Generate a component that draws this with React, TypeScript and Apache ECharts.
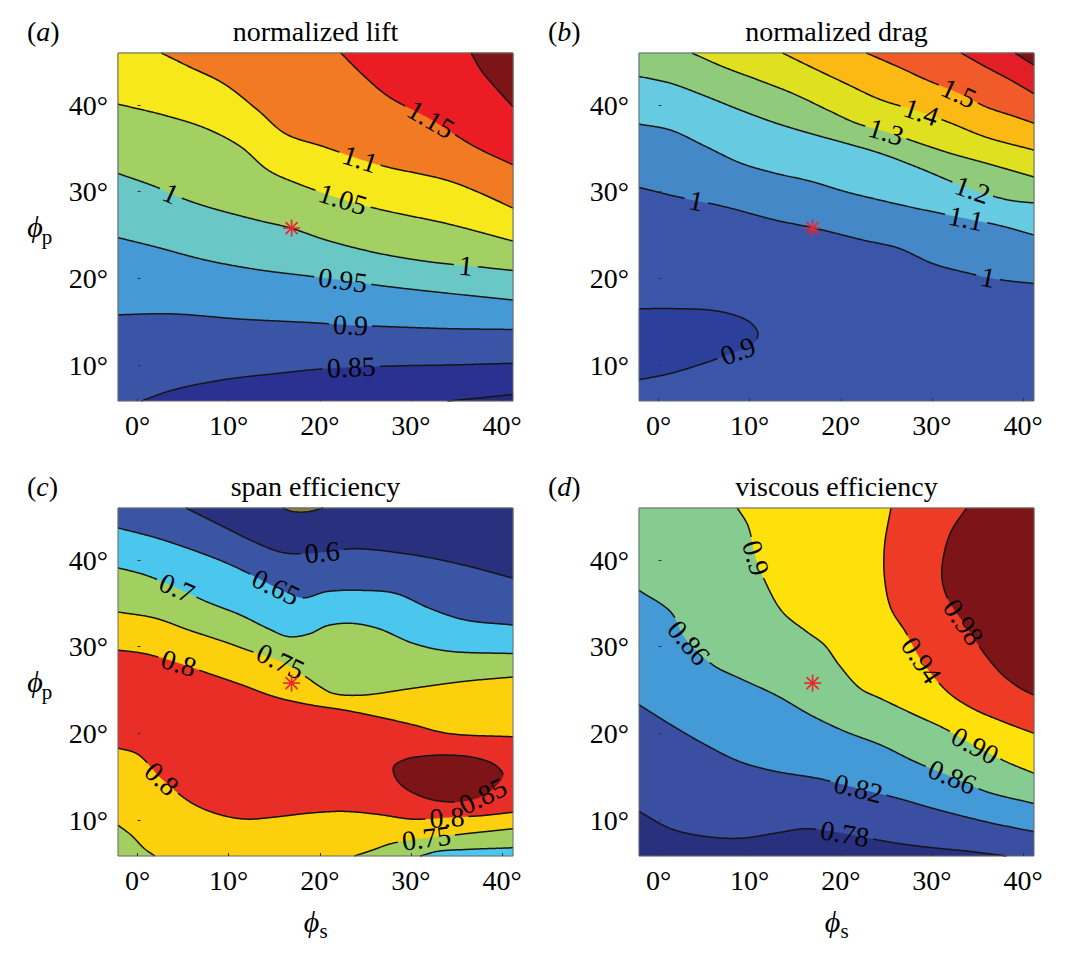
import React, { useEffect, useRef } from "react";
import * as echarts from "echarts";

const FONT = "'Liberation Serif', 'Times New Roman', 'DejaVu Serif', serif";
const XMIN = -2.15;
const XMAX = 41.2;
const YMIN = 5.85;
const YMAX = 46;
const X_TICKS = [0, 10, 20, 30, 40];
const Y_TICKS = [10, 20, 30, 40];
const OPTIMUM = [16.9, 25.8];

// ---------- (a) normalized lift ----------
const LIFT_TITLE = "normalized lift";
const LIFT_080 = [[34.0, 5.85], [37.5, 6.2], [41.2, 6.6]];
const LIFT_085 = [[0.4, 5.85], [3.8, 7.1], [9.4, 8.3], [15.1, 9.0], [20.8, 9.6], [28.3, 9.9], [34.0, 10.0], [41.2, 10.2]];
const LIFT_090 = [[-2.15, 15.8], [3.8, 15.9], [11.3, 15.3], [18.9, 14.9], [23.5, 14.6], [28.3, 14.4], [34.0, 14.2], [41.2, 14.1]];
const LIFT_095 = [[-2.15, 24.7], [1.9, 23.65], [7.5, 22.1], [13.2, 21.0], [17.7, 20.4], [22.5, 19.8], [26.4, 19.2], [32.1, 18.5], [41.2, 17.5]];
const LIFT_100 = [[-2.15, 32.1], [1.9, 30.6], [4.5, 29.4], [7.5, 28.3], [13.2, 26.7], [16.8, 25.8], [20.75, 24.4], [26.4, 22.9], [32.1, 21.9], [37.7, 21.3], [41.2, 20.9]];
const LIFT_105 = [[-2.15, 40.1], [3.0, 38.8], [7.5, 37.3], [11.3, 35.2], [14.3, 32.5], [17.4, 31.0], [22.6, 29.1], [26.8, 27.9], [34.0, 26.3], [41.2, 24.3]];
const LIFT_110 = [[2.6, 46], [5.7, 44.4], [9.4, 42.5], [13.2, 39.4], [16.2, 36.7], [20.4, 35.2], [24.3, 33.8], [27.2, 32.9], [34.0, 31.3], [37.7, 29.8], [41.2, 28.1]];
const LIFT_115 = [[22.3, 46], [24.9, 43.3], [27.5, 41.0], [32.1, 38.4], [37.0, 35.2], [41.2, 33.1]];
const LIFT_120 = [[36.6, 46], [37.7, 44.0], [39.2, 42.1], [41.2, 39.8]];
const LIFT_LINES = [LIFT_080, LIFT_085, LIFT_090, LIFT_095, LIFT_100, LIFT_105, LIFT_110, LIFT_115, LIFT_120];
const LIFT_LABELS: [string, number, number, number][] = [
  ["0.85", 1, 23.4, 9.8],
  ["0.9", 2, 23.3, 14.5],
  ["0.95", 3, 22.5, 19.8],
  ["1", 4, 3.6, 29.6],
  ["1", 4, 36.0, 21.5],
  ["1.05", 5, 22.5, 29.1],
  ["1.1", 6, 24.3, 33.6],
  ["1.15", 7, 32.1, 38.3],
];
const LIFT_COLORS = ["#242a7a", "#2b3191", "#3a55a6", "#4599d5", "#69c8c6", "#a3d063", "#f7e81b", "#f27a22", "#ec1c24", "#7d1518"];
const LIFT_FILLS: [number, (number | string)[]][] = [
  [0, [0, "BR"]],
  [2, [1, "TR", "TL", "BL"]],
  [3, [2, "TR", "TL"]],
  [4, [3, "TR", "TL"]],
  [5, [4, "TR", "TL"]],
  [6, [5, "TR", "TL"]],
  [7, [6, "TR"]],
  [8, [7, "TR"]],
  [9, [8, "TR"]],
];

// ---------- (b) normalized drag ----------
const DRAG_TITLE = "normalized drag";
const DRAG_090 = [[-2.15, 16.5], [2.1, 16.5], [5.95, 16.3], [8.64, 15.65], [10.2, 14.8], [10.9, 13.65], [10.4, 12.5], [7.5, 11.15], [4.4, 10.0], [1.34, 9.04], [-2.15, 8.3]];
const DRAG_100 = [[-2.15, 30.5], [2.1, 29.4], [7.1, 28.3], [12.9, 26.7], [17.1, 25.8], [22.5, 24.4], [26.3, 23.5], [30.1, 21.7], [34.0, 20.6], [37.8, 19.8], [41.2, 19.4]];
const DRAG_110 = [[-2.15, 37.8], [1.34, 37.1], [5.2, 35.2], [9.0, 33.3], [12.9, 32.1], [16.7, 31.2], [20.5, 30.0], [24.4, 29.0], [28.2, 28.1], [33.8, 26.9], [37.8, 26.0], [41.2, 25.0]];
const DRAG_120 = [[-2.15, 43.3], [1.34, 42.5], [5.2, 41.0], [9.0, 39.4], [12.9, 37.9], [16.7, 36.7], [20.5, 35.6], [24.4, 34.4], [28.2, 32.9], [34.5, 30.2], [38.6, 29.0], [41.2, 28.7]];
const DRAG_130 = [[3.65, 46], [7.1, 44.4], [10.9, 42.9], [14.8, 41.3], [18.6, 39.4], [21.7, 37.9], [25.0, 36.9], [28.6, 35.6], [32.1, 34.4], [35.9, 33.3], [41.2, 31.7]];
const DRAG_140 = [[13.6, 46], [16.7, 44.4], [20.5, 42.5], [24.4, 40.6], [28.8, 39.2], [32.1, 37.9], [35.9, 36.3], [41.2, 34.8]];
const DRAG_150 = [[22.8, 46], [26.3, 44.4], [29.4, 42.9], [33.0, 41.35], [35.9, 39.8], [39.0, 38.7], [41.2, 37.9]];
const DRAG_160 = [[33.2, 46], [35.9, 44.4], [38.6, 42.9], [41.2, 41.3]];
const DRAG_170 = [[39.1, 46], [41.2, 44.6]];
const DRAG_LINES = [DRAG_090, DRAG_100, DRAG_110, DRAG_120, DRAG_130, DRAG_140, DRAG_150, DRAG_160, DRAG_170];
const DRAG_LABELS: [string, number, number, number][] = [
  ["0.9", 0, 8.6, 11.9],
  ["1", 1, 4.2, 29.0],
  ["1", 1, 36.1, 20.0],
  ["1.1", 2, 33.8, 26.9],
  ["1.2", 3, 34.5, 30.2],
  ["1.3", 4, 25.0, 36.9],
  ["1.4", 5, 28.8, 39.2],
  ["1.5", 6, 33.0, 41.35],
];
const DRAG_COLORS = ["#2c3f9b", "#3b56a8", "#4488c8", "#66cbe0", "#8fcb7b", "#dfe01f", "#fdb913", "#f15a29", "#e21f26", "#7d1518"];
const DRAG_FILLS: [number, (number | string)[]][] = [
  [0, [0]],
  [2, [1, "TR", "TL"]],
  [3, [2, "TR", "TL"]],
  [4, [3, "TR", "TL"]],
  [5, [4, "TR"]],
  [6, [5, "TR"]],
  [7, [6, "TR"]],
  [8, [7, "TR"]],
  [9, [8, "TR"]],
];

// ---------- (c) span efficiency ----------
const SPAN_TITLE = "span efficiency";
const SPAN_055 = [[15.9, 46], [17.0, 45.6], [18.5, 45.55], [20.4, 46]];
const SPAN_060 = [[5.3, 46], [9.4, 43.85], [13.2, 41.9], [16.2, 40.8], [20.2, 40.9], [23.8, 41.3], [30.2, 40.6], [35.85, 39.4], [41.2, 37.9]];
const SPAN_065 = [[-2.15, 43.7], [1.9, 42.6], [5.66, 41.3], [9.43, 39.8], [12.1, 38.5], [15.1, 36.9], [18.1, 35.65], [20.75, 36.35], [24.5, 36.5], [28.3, 36.15], [32.1, 34.4], [35.85, 33.1], [41.2, 32.5]];
const SPAN_070_UP = [[-2.15, 39.1], [0.75, 38.3], [4.3, 36.8], [7.55, 35.2], [11.3, 33.65], [14.3, 32.1], [16.6, 31.15], [18.9, 31.5], [20.75, 32.4], [23.4, 32.7], [26.4, 32.1], [30.2, 30.4], [34.0, 29.5], [41.2, 29.2]];
const SPAN_075_UP = [[-2.15, 34.0], [1.9, 33.3], [5.66, 31.9], [9.43, 30.6], [12.1, 29.6], [15.7, 28.3], [18.5, 26.5], [20.0, 25.4], [21.5, 24.6], [24.5, 24.4], [30.2, 25.2], [35.85, 26.0], [41.2, 26.5]];
const SPAN_080_UP = [[-2.15, 29.6], [0.75, 29.2], [4.5, 28.1], [7.55, 27.0], [11.3, 25.65], [15.1, 24.2], [18.9, 23.3], [22.6, 22.7], [26.4, 21.9], [30.2, 21.0], [34.0, 20.0], [41.2, 19.6]];
const SPAN_085 = [[28.1, 16.15], [29.4, 17.0], [31.7, 17.4], [34.0, 17.5], [37.0, 17.2], [39.25, 16.35], [40.1, 15.2], [39.25, 13.85], [37.7, 12.7], [35.1, 12.1], [32.1, 12.4], [29.4, 13.65], [28.3, 14.9]];
const SPAN_080_LO = [[-2.15, 18.3], [0, 17.6], [2.6, 14.8], [6.04, 11.9], [9.43, 10.5], [12.1, 10.1], [15.1, 10.35], [18.9, 10.8], [22.6, 11.0], [26.4, 10.65], [30.2, 10.1], [34.0, 10.3], [37.7, 10.5], [41.2, 10.9]];
const SPAN_075_LL = [[-2.15, 9.4], [-0.75, 8.3], [0.75, 6.7], [1.9, 5.85]];
const SPAN_075_LR = [[23.8, 5.85], [25.7, 6.5], [27.9, 7.3], [31.7, 7.9], [35.85, 8.4], [38.5, 8.7], [41.2, 9.0]];
const SPAN_070_LR = [[31.0, 5.85], [33.0, 6.4], [36.0, 6.6], [41.2, 6.8]];
const SPAN_LINES = [SPAN_055, SPAN_060, SPAN_065, SPAN_070_UP, SPAN_075_UP, SPAN_080_UP, SPAN_085, SPAN_080_LO, SPAN_075_LL, SPAN_075_LR, SPAN_070_LR];
const SPAN_CLOSED = [6];
const SPAN_LABELS: [string, number, number, number][] = [
  ["0.6", 1, 20.2, 40.9],
  ["0.65", 2, 15.1, 36.8],
  ["0.7", 3, 4.3, 36.8],
  ["0.75", 4, 15.7, 28.3],
  ["0.8", 5, 4.5, 28.1],
  ["0.8", 7, 2.6, 14.6],
  ["0.85", 6, 37.4, 13.85],
  ["0.8", 7, 34.0, 10.2],
  ["0.75", 9, 31.7, 7.9],
];
const SPAN_COLORS = ["#29307e", "#3b55a5", "#4bc6ec", "#a1d060", "#fdd00e", "#e92d27", "#7d1518", "#8a7b3c"];
const SPAN_FILLS: [number, (number | string)[]][] = [
  [3, [4, "TR", "TL"]],
  [2, [3, "TR", "TL"]],
  [1, [2, "TR", "TL"]],
  [0, [1, "TR"]],
  [7, [0]],
  [5, [5, "r7"]],
  [6, [6]],
  [3, [8, "BL"]],
  [3, [9, "BR"]],
  [2, [10, "BR"]],
];

// ---------- (d) viscous efficiency ----------
const VISC_TITLE = "viscous efficiency";
const VISC_078 = [[-2.15, 11.0], [1.34, 9.0], [5.2, 8.1], [9.0, 7.9], [12.9, 8.5], [16.0, 9.0], [17.8, 8.85], [20.5, 8.4], [26.3, 7.3], [30.1, 6.8], [34.0, 6.4], [38.2, 5.85]];
const VISC_082 = [[-2.15, 23.3], [1.34, 21.0], [5.2, 18.65], [9.0, 16.7], [12.9, 15.6], [17.5, 14.8], [22.1, 13.6], [26.3, 12.5], [30.1, 11.35], [35.9, 9.8], [41.2, 8.65]];
const VISC_086 = [[-2.15, 36.5], [1.34, 34.0], [2.9, 31.0], [5.95, 27.9], [9.0, 26.3], [12.9, 24.4], [16.7, 22.1], [20.5, 20.2], [24.4, 18.65], [28.2, 16.7], [32.4, 14.9], [35.9, 13.3], [41.2, 11.9]];
const VISC_090 = [[8.64, 46], [9.8, 44.0], [10.6, 40.5], [11.7, 37.5], [13.6, 34.0], [16.3, 31.7], [18.2, 30.2], [19.8, 27.9], [22.1, 25.2], [24.4, 24.0], [28.2, 22.1], [31.3, 20.6], [34.7, 18.6], [38.2, 16.7], [41.2, 15.4]];
const VISC_094 = [[25.5, 46], [24.8, 41.7], [24.8, 37.9], [25.5, 34.4], [27.1, 31.7], [28.8, 28.5], [31.7, 24.8], [34.4, 22.9], [37.8, 21.35], [41.2, 20.0]];
const VISC_098 = [[33.8, 46], [32.1, 43.3], [31.3, 40.6], [31.1, 37.9], [31.7, 35.6], [33.6, 32.6], [35.9, 29.0], [37.8, 26.7], [39.7, 25.2], [41.2, 24.4]];
const VISC_LINES = [VISC_078, VISC_082, VISC_086, VISC_090, VISC_094, VISC_098];
const VISC_LABELS: [string, number, number, number][] = [
  ["0.9", 3, 10.6, 40.2],
  ["0.86", 2, 2.9, 30.0],
  ["0.98", 5, 33.6, 32.9],
  ["0.94", 4, 28.6, 28.3],
  ["0.90", 3, 34.7, 18.65],
  ["0.86", 2, 32.4, 15.4],
  ["0.82", 1, 22.1, 14.2],
  ["0.78", 0, 20.5, 8.65],
];
const VISC_COLORS = ["#29307e", "#3a4fa2", "#449ad6", "#86cb90", "#fee00b", "#ed3b25", "#7d1518"];
const VISC_FILLS: [number, (number | string)[]][] = [
  [0, [0, "BL"]],
  [2, [1, "TR", "TL"]],
  [3, [2, "TR", "TL"]],
  [4, [3, "TR"]],
  [5, [4, "TR"]],
  [6, [5, "TR"]],
];

// ---------- layout ----------
const PLOT_W = 395;
const PLOT_H = 348;

type Panel = {
  tag: string;
  title: string;
  left: number;
  top: number;
  lines: number[][][];
  closed: number[];
  colors: string[];
  base: number;
  fills: [number, (number | string)[]][];
  labels: [string, number, number, number][];
  yName: boolean;
  xName: boolean;
};

const PANELS: Panel[] = [
  { tag: "a", title: LIFT_TITLE, left: 118, top: 53, lines: LIFT_LINES, closed: [], colors: LIFT_COLORS, base: 1, fills: LIFT_FILLS, labels: LIFT_LABELS, yName: true, xName: false },
  { tag: "b", title: DRAG_TITLE, left: 639, top: 53, lines: DRAG_LINES, closed: [], colors: DRAG_COLORS, base: 1, fills: DRAG_FILLS, labels: DRAG_LABELS, yName: false, xName: false },
  { tag: "c", title: SPAN_TITLE, left: 118, top: 508, lines: SPAN_LINES, closed: SPAN_CLOSED, colors: SPAN_COLORS, base: 4, fills: SPAN_FILLS, labels: SPAN_LABELS, yName: true, xName: true },
  { tag: "d", title: VISC_TITLE, left: 639, top: 508, lines: VISC_LINES, closed: [], colors: VISC_COLORS, base: 1, fills: VISC_FILLS, labels: VISC_LABELS, yName: false, xName: true },
];

// ---------- geometry helpers ----------
function smooth(pts: number[][], closed: boolean, steps = 12): number[][] {
  const n = pts.length;
  if (n < 3) return pts.map((p) => p.slice());
  const P = (i: number) => {
    if (closed) return pts[((i % n) + n) % n];
    if (i < 0) return [2 * pts[0][0] - pts[1][0], 2 * pts[0][1] - pts[1][1]];
    if (i > n - 1) return [2 * pts[n - 1][0] - pts[n - 2][0], 2 * pts[n - 1][1] - pts[n - 2][1]];
    return pts[i];
  };
  const d = (a: number[], b: number[]) => Math.max(Math.sqrt(Math.hypot(b[0] - a[0], b[1] - a[1])), 1e-3);
  const out: number[][] = [];
  const segs = closed ? n : n - 1;
  for (let i = 0; i < segs; i++) {
    const p0 = P(i - 1), p1 = P(i), p2 = P(i + 1), p3 = P(i + 2);
    const t0 = 0, t1 = t0 + d(p0, p1), t2 = t1 + d(p1, p2), t3 = t2 + d(p2, p3);
    for (let s = 0; s < steps; s++) {
      const t = t1 + ((t2 - t1) * s) / steps;
      const lerp = (a: number[], b: number[], ta: number, tb: number) => [
        ((tb - t) / (tb - ta)) * a[0] + ((t - ta) / (tb - ta)) * b[0],
        ((tb - t) / (tb - ta)) * a[1] + ((t - ta) / (tb - ta)) * b[1],
      ];
      const A1 = lerp(p0, p1, t0, t1), A2 = lerp(p1, p2, t1, t2), A3 = lerp(p2, p3, t2, t3);
      const B1 = lerp(A1, A2, t0, t2), B2 = lerp(A2, A3, t1, t3);
      out.push(lerp(B1, B2, t1, t2));
    }
  }
  out.push(closed ? out[0].slice() : pts[n - 1].slice());
  return out;
}

function resample(pts: number[][], step = 1.2): number[][] {
  const out = [pts[0]];
  let carry = 0;
  for (let i = 1; i < pts.length; i++) {
    const a = pts[i - 1], b = pts[i];
    const L = Math.hypot(b[0] - a[0], b[1] - a[1]);
    if (L === 0) continue;
    let pos = step - carry;
    while (pos <= L) {
      out.push([a[0] + ((b[0] - a[0]) * pos) / L, a[1] + ((b[1] - a[1]) * pos) / L]);
      pos += step;
    }
    carry = L - (pos - step);
  }
  out.push(pts[pts.length - 1]);
  return out;
}

function textWidth(t: string, fs: number) {
  let w = 0;
  for (const ch of t) w += ch === "." ? 0.25 : 0.5;
  return w * fs;
}

const LABEL_FS = 28;

function makeRenderItem(p: Panel) {
  return (params: any, api: any) => {
    const cs = params.coordSys;
    const x0 = cs.x, y0 = cs.y, x1 = cs.x + cs.width, y1 = cs.y + cs.height;
    const clampPx = (q: number[]) => [Math.min(x1, Math.max(x0, q[0])), Math.min(y1, Math.max(y0, q[1]))];
    const corners: Record<string, number[]> = {
      TL: api.coord([XMIN, YMAX]),
      TR: api.coord([XMAX, YMAX]),
      BL: api.coord([XMIN, YMIN]),
      BR: api.coord([XMAX, YMIN]),
    };
    const smoothed = p.lines.map((ln, i) => {
      const closed = p.closed.indexOf(i) >= 0;
      return smooth(ln.map((q) => api.coord(q)), closed).map(clampPx);
    });
    const children: any[] = [];
    children.push({
      type: "polygon",
      shape: { points: [corners.TL, corners.TR, corners.BR, corners.BL] },
      style: { fill: p.colors[p.base] },
    });
    for (const [ci, seq] of p.fills) {
      const pts: number[][] = [];
      for (const tok of seq) {
        if (typeof tok === "number") smoothed[tok].forEach((q) => pts.push(q));
        else if (tok[0] === "r") smoothed[Number(tok.slice(1))].slice().reverse().forEach((q) => pts.push(q));
        else pts.push(corners[tok]);
      }
      children.push({ type: "polygon", shape: { points: pts }, style: { fill: p.colors[ci], stroke: p.colors[ci], lineWidth: 0.3 } });
    }
    const dense = smoothed.map((s) => resample(s));
    const cuts: { line: number; c: number[]; r: number }[] = [];
    const texts: any[] = [];
    for (const [txt, li, lx, ly] of p.labels) {
      const a = api.coord([lx, ly]);
      const pts = dense[li];
      let best = 0, bd = Infinity;
      pts.forEach((q, k) => {
        const dd = (q[0] - a[0]) ** 2 + (q[1] - a[1]) ** 2;
        if (dd < bd) { bd = dd; best = k; }
      });
      const k0 = Math.max(0, best - 6), k1 = Math.min(pts.length - 1, best + 6);
      const dx = pts[k1][0] - pts[k0][0], dy = pts[k1][1] - pts[k0][1];
      let ang = Math.atan2(-dy, dx);
      if (ang > Math.PI / 2) ang -= Math.PI;
      if (ang <= -Math.PI / 2) ang += Math.PI;
      const c = pts[best];
      cuts.push({ line: li, c, r: textWidth(txt, LABEL_FS) / 2 + 4 });
      texts.push({
        type: "text",
        x: c[0],
        y: c[1],
        rotation: ang,
        style: { x: 0, y: 0, text: txt, fill: "#000", fontSize: LABEL_FS, fontFamily: FONT, align: "center", verticalAlign: "middle" },
      });
    }
    dense.forEach((pts, li) => {
      const myCuts = cuts.filter((c) => c.line === li);
      let run: number[][] = [];
      const flush = () => {
        if (run.length > 1) children.push({ type: "polyline", shape: { points: run }, style: { stroke: "#151515", lineWidth: 1.5, fill: null } });
        run = [];
      };
      for (const q of pts) {
        const inside = myCuts.some((c) => Math.hypot(q[0] - c.c[0], q[1] - c.c[1]) < c.r);
        if (inside) flush();
        else run.push(q);
      }
      flush();
    });
    texts.forEach((t) => children.push(t));
    const s = api.coord(OPTIMUM);
    const R = 8.5;
    for (let k = 0; k < 4; k++) {
      const a = (k * Math.PI) / 4;
      children.push({
        type: "line",
        shape: { x1: s[0] - R * Math.cos(a), y1: s[1] - R * Math.sin(a), x2: s[0] + R * Math.cos(a), y2: s[1] + R * Math.sin(a) },
        style: { stroke: "#e8262b", lineWidth: 1.6 },
      });
    }
    children.push({
      type: "rect",
      shape: { x: x0, y: y0, width: x1 - x0, height: y1 - y0 },
      style: { fill: null, stroke: "#6a6a6a", lineWidth: 1 },
    });
    return { type: "group", children };
  };
}

function buildOption() {
  const grid = PANELS.map((p) => ({ left: p.left, top: p.top, width: PLOT_W, height: PLOT_H, show: false }));
  const axisCommon = {
    type: "value",
    z: 5,
    axisLine: { show: false },
    splitLine: { show: false },
  };
  const xAxis = PANELS.map((p, i) => ({
    ...axisCommon,
    gridIndex: i,
    min: XMIN,
    max: XMAX,
    axisTick: { show: true, inside: true, length: 3, customValues: X_TICKS, lineStyle: { color: "#333", width: 1 } },
    axisLabel: { customValues: X_TICKS, formatter: (v: number) => `${v}°`, fontSize: 28, fontFamily: FONT, color: "#000", margin: 10 },
  }));
  const yAxis = PANELS.map((p, i) => ({
    ...axisCommon,
    gridIndex: i,
    min: YMIN,
    max: YMAX,
    axisTick: { show: true, inside: true, length: 3, customValues: Y_TICKS, lineStyle: { color: "#333", width: 1 } },
    axisLabel: { customValues: Y_TICKS, formatter: (v: number) => `${v}°`, fontSize: 28, fontFamily: FONT, color: "#000", margin: 10 },
  }));
  const series = PANELS.map((p, i) => ({
    type: "custom",
    xAxisIndex: i,
    yAxisIndex: i,
    silent: true,
    clip: false,
    data: [[OPTIMUM[0], OPTIMUM[1]]],
    renderItem: makeRenderItem(p),
  }));
  const center = { align: "center", verticalAlign: "middle", textAlign: "center", textVerticalAlign: "middle" };
  const elements: any[] = [];
  PANELS.forEach((p) => {
    const cx = p.left + PLOT_W / 2;
    elements.push({
      type: "text",
      x: cx,
      y: p.top - 22,
      style: { text: p.title, fontSize: 28, fontFamily: FONT, fill: "#000", ...center },
    });
    elements.push({
      type: "text",
      x: p.left - 91,
      y: p.top - 22,
      style: {
        text: `{r|(}{i|${p.tag}}{r|)}`,
        fill: "#000",
        align: "left",
        verticalAlign: "middle",
        textAlign: "left",
        textVerticalAlign: "middle",
        rich: {
          r: { fontSize: 28, fontFamily: FONT, fill: "#000" },
          i: { fontSize: 28, fontFamily: FONT, fontStyle: "italic", fill: "#000" },
        },
      },
    });
    if (p.yName) {
      elements.push({
        type: "text",
        x: 35,
        y: p.top + PLOT_H / 2 - 1,
        style: { text: "ϕ", fontSize: 30, fontFamily: FONT, fontStyle: "italic", fill: "#000", ...center },
      });
      elements.push({
        type: "text",
        x: 47,
        y: p.top + PLOT_H / 2 + 10,
        style: { text: "p", fontSize: 21, fontFamily: FONT, fill: "#000", ...center },
      });
    }
    if (p.xName) {
      elements.push({
        type: "text",
        x: cx - 4,
        y: p.top + PLOT_H + 65,
        style: { text: "ϕ", fontSize: 30, fontFamily: FONT, fontStyle: "italic", fill: "#000", ...center },
      });
      elements.push({
        type: "text",
        x: cx + 8,
        y: p.top + PLOT_H + 75,
        style: { text: "s", fontSize: 21, fontFamily: FONT, fill: "#000", ...center },
      });
    }
  });
  return {
    animation: false,
    backgroundColor: "#ffffff",
    grid,
    xAxis,
    yAxis,
    series,
    graphic: { elements },
  };
}

export default function App() {
  const ref = useRef<HTMLDivElement>(null);
  useEffect(() => {
    if (!ref.current) return;
    const chart = echarts.init(ref.current, undefined, { renderer: "svg" });
    chart.setOption(buildOption() as any);
    return () => chart.dispose();
  }, []);
  return <div ref={ref} style={{ position: "fixed", left: 0, top: 0, width: 1080, height: 953, background: "#fff" }} />;
}
